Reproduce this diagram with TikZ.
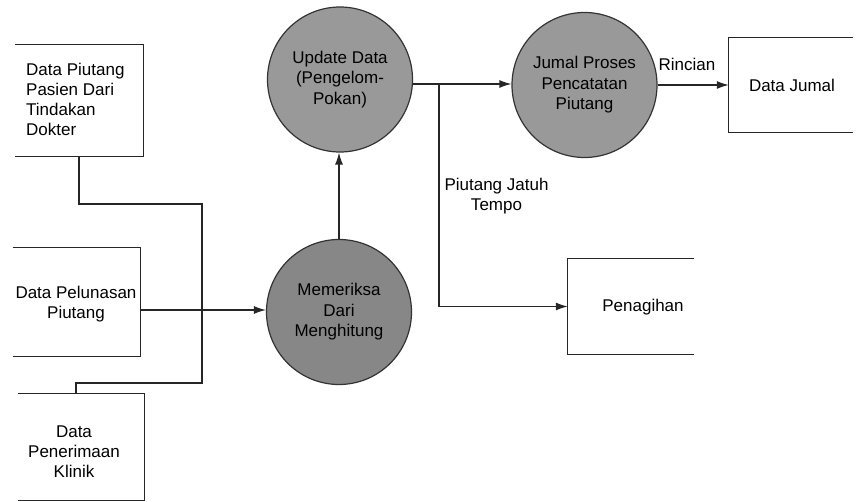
\documentclass[tikz,border=0pt]{standalone}
\usepackage{fontspec}
\setmainfont{Liberation Sans}
\usetikzlibrary{arrows.meta}
\begin{document}
\begin{tikzpicture}[x=1pt,y=-1pt,
  line/.style={line width=1.2pt, draw=black!85},
  flow/.style={line, -{Latex[length=12pt,width=8pt]}},
  proc/.style={circle, draw=black!80, line width=1.2pt, fill=black!40, minimum size=145pt, inner sep=0pt, align=center, font=\fontsize{17}{20.5}\selectfont},
  store/.style={rectangle, inner sep=0pt},
  txt/.style={align=center, inner sep=0pt, font=\fontsize{17}{20}\selectfont},
]
\useasboundingbox (0,0) rectangle (856,502);

% data stores (open on one side)
\node[store, minimum width=128pt, minimum height=111pt] (b1) at (79,100.5) {};
\node[store, minimum width=127pt, minimum height=108pt] (b2) at (76.5,302) {};
\node[store, minimum width=126pt, minimum height=106pt] (b3) at (81,447) {};
\node[store, minimum width=124pt, minimum height=94pt] (bj) at (791,85) {};
\node[store, minimum width=126pt, minimum height=95pt] (bp) at (631,306.5) {};

\draw[line] (b1.north west) -- (b1.north east) -- (b1.south east) -- (b1.south west);
\draw[line] (b2.north west) -- (b2.north east) -- (b2.south east) -- (b2.south west);
\draw[line] (b3.north west) -- (b3.north east) -- (b3.south east) -- (b3.south west);
\draw[line] (bj.north east) -- (bj.north west) -- (bj.south west) -- (bj.south east);
\draw[line] (bp.north east) -- (bp.north west) -- (bp.south west) -- (bp.south east);

% store texts
\node[txt, align=left, anchor=west] (t1) at (26,99) {\fontsize{17}{19.3}\selectfont Data Piutang\\Pasien Dari\\Tindakan\\Dokter};
\node[txt] (t2) at (76,304) {Data Pelunasan\\Piutang};
\node[txt] (t3) at (74,452) {Data\\Penerimaan\\Klinik};
\node[txt] (tj) at (792,85) {Data Jumal};
\node[txt] (tp) at (643,307) {Penagihan};

% processes
\node[proc, fill=black!47] (c1) at (339,312) {Memeriksa\\Dari\\Menghitung};
\node[proc] (c2) at (340,79.5) {Update Data\\(Pengelom-\\Pokan)};
\node[proc] (c3) at (584.5,85) {Jumal Proses\\Pencatatan\\Piutang};

% connectors
\coordinate (j1) at (202,204);
\coordinate (j2) at (202,383);
\draw[line] (b1.south) |- (j1) -- (j2) -| ([xshift=-5pt]b3.north);

\draw[flow] (b2.east |- 0,310) -- (c1.west |- 0,310);
\draw[flow] (c1.north) -- (c1.north |- c2.south);

\coordinate (m) at (439,84);
\draw[flow] (c2.east |- m) -- (c3.west |- m);
\draw[flow] (m) |- (bp.west);
\draw[flow] (c3.east) -- (bj.west);

% labels
\node[txt] (lr) at (687,64) {Rincian};
\node[txt] (lp) at (496.5,196) {Piutang Jatuh\\Tempo};
\end{tikzpicture}
\end{document}
